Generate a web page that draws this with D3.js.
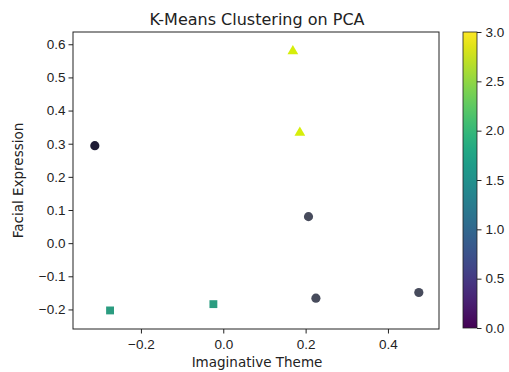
<!DOCTYPE html>
<html lang="en">
<head>
<meta charset="UTF-8">
<script src="https://cdnjs.cloudflare.com/ajax/libs/d3/7.8.5/d3.min.js"></script>
<style>
  body { margin: 0; background: #fff; }
  svg { display: block; font-family: 'DejaVu Sans', sans-serif; }
  .axis text { font-size: 13.5px; fill: #222; }
  .axis path, .axis line { stroke: #222; }
</style>
</head>
<body>
<svg width="509" height="372"></svg>
<script>
// PCA components and cluster label for each point
var pcX = [-0.312, 0.169, 0.186, 0.207, 0.225, 0.475, -0.275, -0.024];
var pcY = [0.294, 0.579, 0.333, 0.080, -0.166, -0.149, -0.203, -0.184];
var cluster = [0, 3, 3, 1, 1, 1, 2, 2];
var xTicks = [-0.2, 0.0, 0.2, 0.4];
var yTicks = [-0.2, -0.1, 0.0, 0.1, 0.2, 0.3, 0.4, 0.5, 0.6];
var cbTicks = [0.0, 0.5, 1.0, 1.5, 2.0, 2.5, 3.0];

var svg = d3.select("svg");
// note: "top" is taken by window.top, so the plot box uses its own names
var plotL = 73, plotR = 439, plotT = 32, plotB = 329;

var x = d3.scaleLinear().domain([-0.365, 0.524]).range([plotL, plotR]);
var y = d3.scaleLinear().domain([-0.259, 0.637]).range([plotB, plotT]);

// marker colours as they appear in the picture
var color = d3.scaleOrdinal().domain([0, 1, 2, 3])
    .range(["#1f1c36", "#474b5c", "#2b9c80", "#d6ee0a"]);
var shape = d3.scaleOrdinal().domain([0, 1, 2, 3])
    .range([d3.symbolCircle, d3.symbolCircle, d3.symbolSquare, d3.symbolTriangle]);
var size = d3.scaleOrdinal().domain([0, 1, 2, 3]).range([66, 66, 62, 50]);

var minus = d => d3.format(".1f")(d).replace("-", "\u2212");

svg.append("text")
    .attr("x", 257).attr("y", 25)
    .attr("text-anchor", "middle")
    .style("font-size", "16px").style("fill", "#222")
    .text("K-Means Clustering on PCA");

svg.append("g").attr("class", "axis")
    .attr("transform", "translate(0," + plotB + ")")
    .call(d3.axisBottom(x).tickValues(xTicks).tickSize(4.5).tickPadding(6).tickFormat(minus))
    .select(".domain").remove();

svg.append("g").attr("class", "axis")
    .attr("transform", "translate(" + plotL + ",0)")
    .call(d3.axisLeft(y).tickValues(yTicks).tickSize(4.5).tickPadding(3).tickFormat(minus))
    .select(".domain").remove();

svg.append("rect")
    .attr("x", plotL).attr("y", plotT)
    .attr("width", plotR - plotL).attr("height", plotB - plotT)
    .attr("fill", "none").attr("stroke", "#222").attr("stroke-width", 1);

svg.append("g").selectAll("path")
    .data(pcX.map((d, i) => ({x: d, y: pcY[i], c: cluster[i]})))
    .enter()
    .append("path")
        .attr("transform", d => "translate(" + x(d.x) + "," + y(d.y) + ")")
        .attr("d", d => d3.symbol().type(shape(d.c)).size(size(d.c))())
        .style("fill", d => color(d.c));

svg.append("text")
    .attr("x", 257).attr("y", 367)
    .attr("text-anchor", "middle")
    .style("font-size", "13.5px").style("fill", "#222")
    .text("Imaginative Theme");

svg.append("text")
    .attr("transform", "translate(23," + ((plotT + plotB) / 2) + ") rotate(-90)")
    .attr("text-anchor", "middle")
    .style("font-size", "13.5px").style("fill", "#222")
    .text("Facial Expression");

// colorbar
var cbLeft = 463, cbW = 14;
var cb = d3.scaleLinear().domain([0, 3]).range([plotB - 1, plotT]);
var grad = svg.append("defs").append("linearGradient")
    .attr("id", "viridis").attr("x1", 0).attr("y1", 1).attr("x2", 0).attr("y2", 0);
grad.selectAll("stop")
    .data(d3.range(0, 1.01, 0.05))
    .enter()
    .append("stop")
        .attr("offset", d => d)
        .attr("stop-color", d => d3.interpolateViridis(d));

svg.append("rect")
    .attr("x", cbLeft).attr("y", cb(3))
    .attr("width", cbW).attr("height", cb(0) - cb(3))
    .attr("fill", "url(#viridis)")
    .attr("stroke", "#222").attr("stroke-width", 0.8);

svg.append("g").attr("class", "axis")
    .attr("transform", "translate(" + (cbLeft + cbW) + ",0)")
    .call(d3.axisRight(cb).tickValues(cbTicks).tickSize(4.5).tickPadding(4)
        .tickFormat(d3.format(".1f")))
    .select(".domain").remove();
</script>
</body>
</html>
